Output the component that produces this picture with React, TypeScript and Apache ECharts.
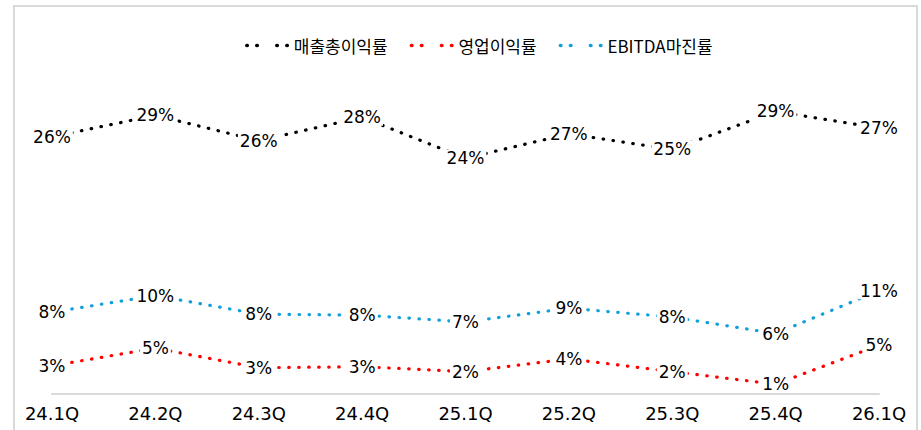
import React, { useEffect, useRef } from 'react';
import * as echarts from 'echarts';

const categories = ['24.1Q', '24.2Q', '24.3Q', '24.4Q', '25.1Q', '25.2Q', '25.3Q', '25.4Q', '26.1Q'];
const grossMargin = [26.4, 28.6, 26.0, 28.4, 24.2, 26.7, 25.1, 29.0, 27.3];
const operatingMargin = [2.9, 4.7, 2.7, 2.8, 2.3, 3.6, 2.3, 1.0, 5.0];
const ebitdaMargin = [8.4, 10.1, 8.2, 8.1, 7.4, 8.8, 7.9, 6.2, 10.6];
const seriesNames = ['매출총이익률', '영업이익률', 'EBITDA마진률'];
const seriesColors = ['#000000', '#ff0000', '#12a0dc'];
const seriesData = [grossMargin, operatingMargin, ebitdaMargin];

export default function App() {
  const ref = useRef<HTMLDivElement>(null);

  useEffect(() => {
    document.body.style.margin = '0';
    document.body.style.background = '#ffffff';
    if (!ref.current) return;
    const chart = echarts.init(ref.current, undefined, { renderer: 'svg' });

    const series = seriesNames.map((name, i) => ({
      name,
      type: 'line',
      data: seriesData[i],
      symbol: 'circle',
      symbolSize: 1,
      showSymbol: true,
      silent: true,
      itemStyle: { color: '#ffffff', opacity: 1 },
      lineStyle: {
        color: seriesColors[i],
        width: 3.2,
        type: [0.5, 9.5],
        cap: 'round',
      },
      label: {
        show: true,
        position: 'inside',
        formatter: (p: any) => Math.round(p.value) + '%',
        color: '#000000',
        fontFamily: 'DejaVu Sans',
        fontSize: 17,
        backgroundColor: '#ffffff',
        padding: [0, 2],
      },
      emphasis: { disabled: true },
      z: 2,
    }));

    chart.setOption({
      animation: false,
      backgroundColor: '#ffffff',
      graphic: [
        {
          type: 'rect',
          shape: { x: 14, y: 6, width: 903, height: 480 },
          style: { fill: 'none', stroke: '#d9d9d9', lineWidth: 2 },
          silent: true,
          z: 0,
        },
      ],
      legend: {
        left: 240,
        top: 32,
        itemWidth: 42,
        itemHeight: 14,
        itemGap: 22,
        selectedMode: false,
        data: seriesNames,
        lineStyle: { width: 3.6 },
        textStyle: {
          color: '#000000',
          fontFamily: 'Noto Sans CJK KR',
          fontSize: 17,
        },
      },
      grid: { left: 52, right: 42, top: 53, bottom: 36, containLabel: false },
      xAxis: {
        type: 'category',
        data: categories,
        boundaryGap: false,
        axisLine: { show: true, lineStyle: { color: '#d9d9d9', width: 2 } },
        axisTick: { show: false },
        axisLabel: {
          color: '#000000',
          fontFamily: 'DejaVu Sans',
          fontSize: 18,
          margin: 10,
        },
        splitLine: { show: false },
      },
      yAxis: {
        type: 'value',
        min: 0,
        max: 35,
        show: false,
        splitLine: { show: false },
      },
      series,
    });

    return () => chart.dispose();
  }, []);

  return <div ref={ref} style={{ width: 921, height: 430 }} />;
}
